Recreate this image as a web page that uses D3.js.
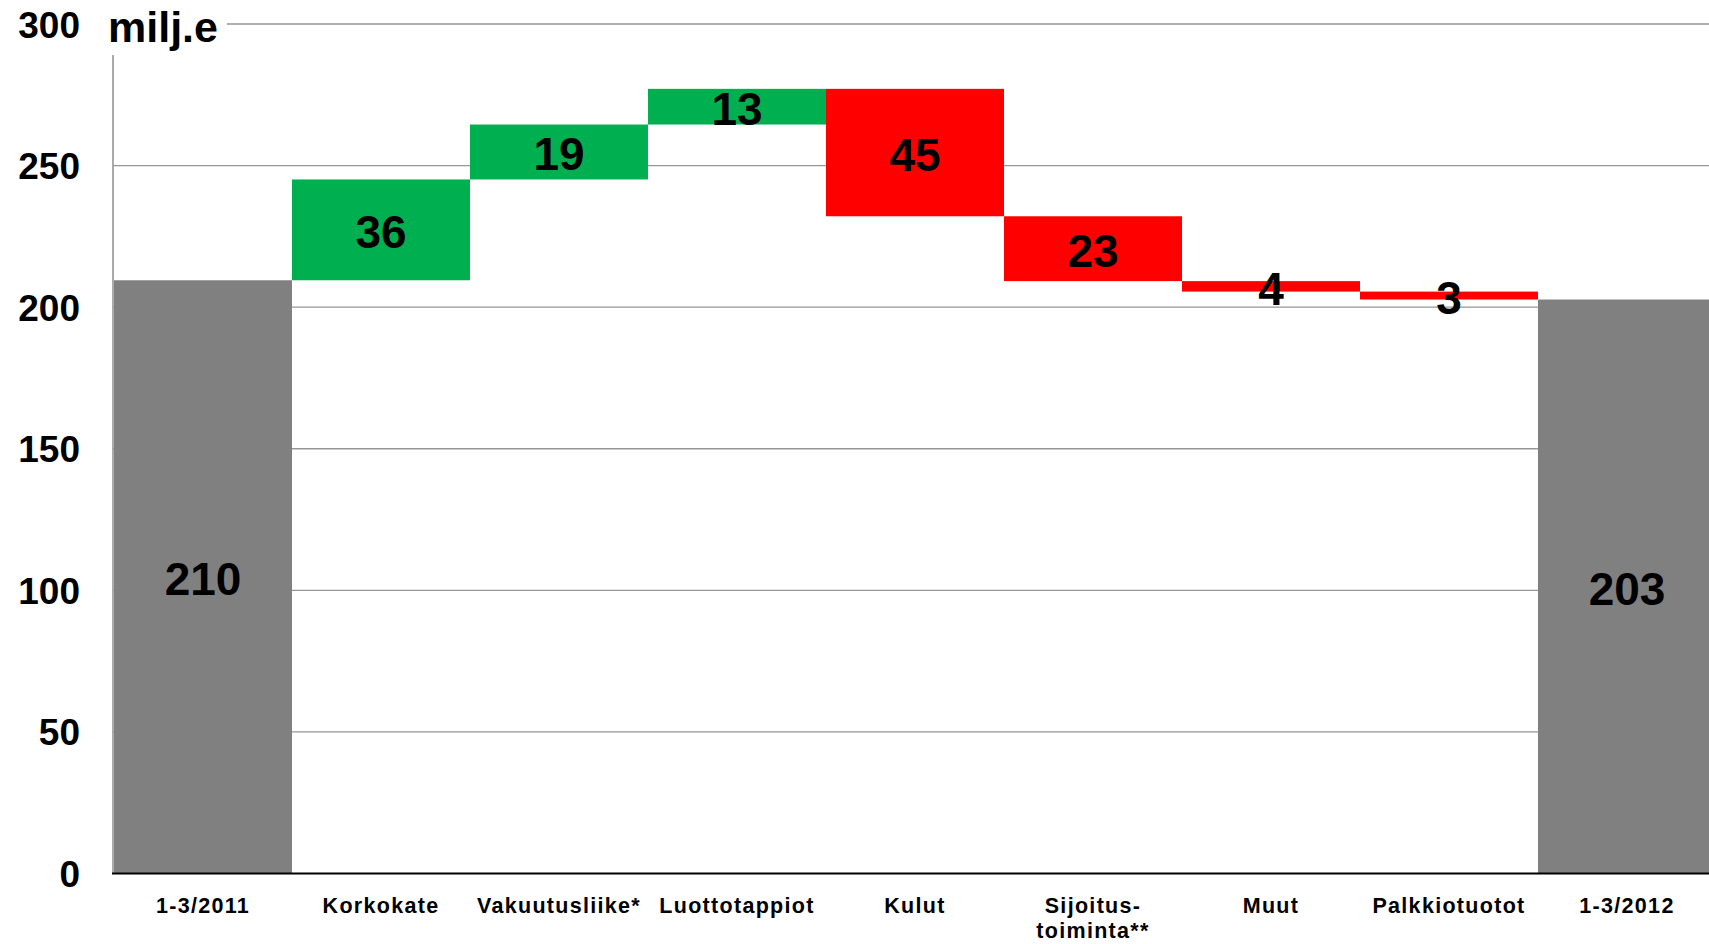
<!DOCTYPE html>
<html>
<head>
<meta charset="utf-8">
<script src="https://cdn.jsdelivr.net/npm/d3@7"></script>
<style>
  html, body { margin: 0; padding: 0; background: #fff; }
  svg { display: block; }
  text { font-family: "Liberation Sans", Arial, Helvetica, sans-serif; font-weight: bold; fill: #000; }
</style>
</head>
<body>
<svg id="chart" width="1709" height="944"></svg>
<script>
// ---- data ----
const categories = ["1-3/2011", "Korkokate", "Vakuutusliike*", "Luottotappiot", "Kulut", "Sijoitus-\ntoiminta**", "Muut", "Palkkiotuotot", "1-3/2012"];
const startTotal = 209.5;
const deltas = [35.6, 19.4, 12.6, -45.0, -22.9, -3.7, -2.8];
const endTotal = 202.7;
const yTicks = [0, 50, 100, 150, 200, 250, 300];
const unitLabel = "milj.e";

// ---- build waterfall rows ----
const rows = [];
rows.push({ cat: categories[0], y0: 0, y1: startTotal, type: "total", label: Math.round(startTotal) });
let run = startTotal;
deltas.forEach((d, i) => {
  rows.push({ cat: categories[i + 1], y0: run, y1: run + d, type: d >= 0 ? "up" : "down", label: Math.round(Math.abs(d)) });
  run += d;
});
rows.push({ cat: categories[categories.length - 1], y0: 0, y1: endTotal, type: "total", label: Math.round(endTotal) });

const colors = { total: "#808080", up: "#00B050", down: "#FF0000" };

// ---- layout ----
const W = 1709, H = 944;
const axisX = 113, left = 114, band = 178;
const svg = d3.select("#chart");

const x = d3.scaleBand().domain(categories).range([left, left + band * categories.length]).padding(0);
const y = d3.scaleLinear().domain([0, 300]).range([873.5, 24]);

// gridlines
svg.append("g").selectAll("line")
  .data(yTicks.filter(t => t > 0))
  .join("line")
  .attr("x1", t => t === 300 ? 227 : axisX)
  .attr("x2", W)
  .attr("y1", t => y(t)).attr("y2", t => y(t))
  .attr("stroke", "#969696").attr("stroke-width", 1.3);

// y axis line
svg.append("line")
  .attr("x1", axisX).attr("x2", axisX)
  .attr("y1", 55).attr("y2", y(0))
  .attr("stroke", "#969696").attr("stroke-width", 1.6);

// bars
svg.append("g").selectAll("rect")
  .data(rows)
  .join("rect")
  .attr("x", d => x(d.cat))
  .attr("width", x.bandwidth())
  .attr("y", d => y(Math.max(d.y0, d.y1)))
  .attr("height", d => Math.abs(y(d.y0) - y(d.y1)))
  .attr("fill", d => colors[d.type]);

// x axis line
svg.append("line")
  .attr("x1", axisX - 1).attr("x2", W)
  .attr("y1", y(0)).attr("y2", y(0))
  .attr("stroke", "#000").attr("stroke-width", 2.2);

// y tick labels
svg.append("g").selectAll("text")
  .data(yTicks)
  .join("text")
  .attr("x", 80)
  .attr("y", t => y(t) + 13.5)
  .attr("text-anchor", "end")
  .style("font-size", "37px")
  .text(t => t);

// unit label
svg.append("text")
  .attr("x", 108).attr("y", 42)
  .style("font-size", "43px")
  .text(unitLabel);

// value labels
svg.append("g").selectAll("text")
  .data(rows)
  .join("text")
  .attr("x", d => x(d.cat) + x.bandwidth() / 2)
  .attr("y", d => (y(d.y0) + y(d.y1)) / 2 + 18.5)
  .attr("text-anchor", "middle")
  .style("font-size", "46px")
  .text(d => d.label);

// x category labels
const xl = svg.append("g").selectAll("text")
  .data(categories)
  .join("text")
  .attr("x", d => x(d) + x.bandwidth() / 2)
  .attr("y", 913)
  .attr("text-anchor", "middle")
  .style("font-size", "21.5px")
  .style("letter-spacing", "1.3px");
xl.each(function(d) {
  const t = d3.select(this);
  d.split("\n").forEach((line, i) => {
    t.append("tspan")
      .attr("x", x(d) + x.bandwidth() / 2)
      .attr("dy", i === 0 ? 0 : 25)
      .text(line);
  });
});
</script>
</body>
</html>
